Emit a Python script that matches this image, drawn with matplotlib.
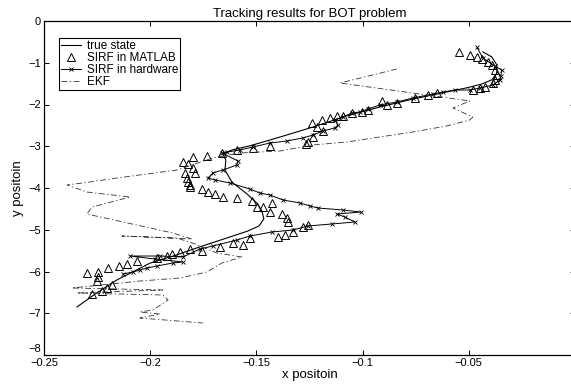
"""
Tracking results for BOT problem - true state vs SIRF (MATLAB / hardware) vs EKF.
Values read off the reference figure.
"""

import matplotlib
matplotlib.use("Agg")
import matplotlib.pyplot as plt
from matplotlib.transforms import ScaledTranslation

plt.rcParams["font.family"] = ["Liberation Sans", "DejaVu Sans"]
plt.rcParams["font.size"] = 8

# true state
true_x = [-0.0434, -0.0392, -0.0368, -0.0368, -0.0392, -0.0439, -0.0509, -0.0604,
          -0.0764, -0.0919, -0.1074, -0.1234, -0.1389, -0.1531, -0.1615, -0.1658,
          -0.1644, -0.1648, -0.1615, -0.1545, -0.1498, -0.1474, -0.1465, -0.1488,
          -0.1540, -0.1611, -0.1695, -0.1766, -0.1874, -0.2001, -0.2156, -0.2251,
          -0.2345]
true_y = [-0.74, -0.86, -1.05, -1.25, -1.41, -1.51, -1.60, -1.70,
          -1.87, -2.06, -2.27, -2.54, -2.78, -2.99, -3.09, -3.19,
          -3.33, -3.57, -3.86, -4.14, -4.36, -4.55, -4.74, -4.91,
          -5.03, -5.15, -5.29, -5.41, -5.60, -5.80, -6.20, -6.51,
          -6.85]

# SIRF in MATLAB (markers only)
matlab_x = [-0.0547, -0.0495, -0.0462, -0.0439, -0.0411, -0.0392, -0.0378, -0.0368,
            -0.0378, -0.0387, -0.0425, -0.0448, -0.0481, -0.0651, -0.0693, -0.0754,
            -0.0839, -0.0886, -0.0909, -0.0975, -0.1004, -0.1051, -0.1093, -0.1121,
            -0.1154, -0.1192, -0.1239, -0.1215, -0.1187, -0.1234, -0.1258, -0.1267,
            -0.1436, -0.1516, -0.1592, -0.1662, -0.1733, -0.1799, -0.1846, -0.1822,
            -0.1799, -0.1789, -0.1836, -0.1827, -0.1822, -0.1813, -0.1813, -0.1756,
            -0.1728, -0.1695, -0.1658, -0.1592, -0.1521, -0.1498, -0.1469, -0.1436,
            -0.1427, -0.1380, -0.1356, -0.1352, -0.1399, -0.1366, -0.1328, -0.1281,
            -0.1258, -0.1531, -0.1564, -0.1611, -0.1672, -0.1756, -0.1813, -0.1860,
            -0.1898, -0.1921, -0.1968, -0.2062, -0.2109, -0.2147, -0.2199, -0.2246,
            -0.2298, -0.2246, -0.2251, -0.2180, -0.2204, -0.2227, -0.2274]
matlab_y = [-0.743, -0.814, -0.862, -0.910, -0.982, -1.054, -1.174, -1.293,
            -1.413, -1.485, -1.581, -1.605, -1.653, -1.725, -1.772, -1.844,
            -1.964, -2.012, -1.916, -2.132, -2.180, -2.204, -2.275, -2.275,
            -2.323, -2.371, -2.443, -2.539, -2.635, -2.778, -2.898, -2.946,
            -2.994, -3.042, -3.090, -3.162, -3.234, -3.257, -3.377, -3.425,
            -3.521, -3.641, -3.641, -3.760, -3.856, -3.928, -3.976, -4.024,
            -4.096, -4.144, -4.216, -4.240, -4.311, -4.455, -4.455, -4.575,
            -4.359, -4.623, -4.719, -4.814, -5.174, -5.126, -5.054, -4.934,
            -4.886, -5.198, -5.365, -5.317, -5.413, -5.509, -5.461, -5.533,
            -5.581, -5.629, -5.677, -5.749, -5.820, -5.868, -5.916, -6.012,
            -6.036, -6.132, -6.228, -6.323, -6.395, -6.467, -6.539]

# SIRF in hardware (line + x markers)
hw_x = [-0.0462, -0.0434, -0.0378, -0.0345, -0.0349, -0.0354, -0.0387, -0.0448,
        -0.0495, -0.0566, -0.0622, -0.0669, -0.0764, -0.0839, -0.0919, -0.0975,
        -0.1013, -0.1051, -0.1093, -0.1131, -0.1116, -0.1131, -0.1187, -0.1234,
        -0.1281, -0.1356, -0.1436, -0.1516, -0.1578, -0.1639, -0.1662, -0.1587,
        -0.1592, -0.1658, -0.1705, -0.1728, -0.1695, -0.1625, -0.1531, -0.1484,
        -0.1436, -0.1375, -0.1295, -0.1248, -0.1211, -0.1093, -0.1008, -0.1121,
        -0.1084, -0.1036, -0.1145, -0.1258, -0.1328, -0.1427, -0.1531, -0.1592,
        -0.1705, -0.1766, -0.1846, -0.1954, -0.2095, -0.1978, -0.1846, -0.1893,
        -0.1968, -0.2015, -0.2048, -0.2081, -0.2128]
hw_y = [-0.623, -0.886, -1.078, -1.174, -1.317, -1.413, -1.533, -1.605,
        -1.653, -1.653, -1.701, -1.749, -1.844, -1.940, -2.012, -2.108,
        -2.180, -2.204, -2.299, -2.371, -2.491, -2.563, -2.635, -2.731,
        -2.802, -2.874, -2.922, -3.018, -3.090, -3.138, -3.162, -3.353,
        -3.449, -3.569, -3.641, -3.760, -3.808, -3.880, -4.024, -4.120,
        -4.168, -4.287, -4.359, -4.431, -4.479, -4.527, -4.575, -4.623,
        -4.695, -4.814, -4.862, -4.910, -5.006, -5.054, -5.150, -5.246,
        -5.389, -5.461, -5.653, -5.629, -5.629, -5.701, -5.772, -5.796,
        -5.868, -5.916, -5.964, -6.012, -6.060]

# EKF (dash-dot)
ekf_x = [-0.0839, -0.1107, -0.0764, -0.0495, -0.0575, -0.0481, -0.0495, -0.0604,
         -0.0764, -0.0919, -0.1074, -0.1234, -0.1389, -0.1578, -0.1705, -0.1874,
         -0.2156, -0.2284, -0.2392, -0.2298, -0.2095, -0.2274, -0.2298, -0.1893,
         -0.1804, -0.2133, -0.1874, -0.1789, -0.1686, -0.1568, -0.1662, -0.1733,
         -0.1860, -0.2048, -0.2368, -0.1940, -0.2345, -0.1940, -0.1916, -0.1987,
         -0.2048, -0.1954, -0.2048, -0.1752]
ekf_y = [-1.150, -1.485, -1.725, -1.916, -2.084, -2.299, -2.371, -2.515,
         -2.659, -2.778, -2.898, -2.970, -3.114, -3.162, -3.281, -3.569,
         -3.760, -3.856, -3.928, -4.096, -4.216, -4.455, -4.623, -5.078,
         -5.222, -5.150, -5.198, -5.341, -5.557, -5.653, -5.796, -6.012,
         -6.156, -6.228, -6.395, -6.443, -6.515, -6.563, -6.683, -6.922,
         -6.970, -7.018, -7.114, -7.234]

x_ticks = [-0.25, -0.2, -0.15, -0.1, -0.05, 0]
# the 0 label falls outside the cropped picture, so it stays empty
x_tick_labels = ["\u22120.25", "\u22120.2", "\u22120.15", "\u22120.1", "\u22120.05", ""]
y_ticks = [0, -1, -2, -3, -4, -5, -6, -7, -8]
y_tick_labels = ["0"] + ["\u2212%d" % (-v) for v in y_ticks[1:]]

fig = plt.figure(figsize=(5.71, 3.87), dpi=100)
# the right spine sits just past the image edge, like the cropped original
ax = fig.add_axes([44 / 571, 32 / 387, 531 / 571, 334 / 387])

ax.plot(true_x, true_y, color="black", linewidth=0.8, label="true state")
ax.plot(matlab_x, matlab_y, linestyle="none", marker="^", markersize=5.5,
        markerfacecolor="none", markeredgecolor="black", markeredgewidth=0.7,
        label="SIRF in MATLAB")
ax.plot(hw_x, hw_y, color="black", linewidth=0.7, marker="x", markersize=3,
        markeredgewidth=0.6, label="SIRF in hardware")
ax.plot(ekf_x, ekf_y, color="#333333", linewidth=0.6, linestyle=(0, (7, 3, 1.5, 3)),
        label="EKF")

ax.set_xlim(-0.25, 0)
ax.set_ylim(-8, 0)
ax.set_xticks(x_ticks)
ax.set_xticklabels(x_tick_labels)
ax.set_yticks(y_ticks)
ax.set_yticklabels(y_tick_labels)
ax.tick_params(direction="in", length=3.5, width=0.7, top=True, right=True, pad=2)
for sp in ax.spines.values():
    sp.set_linewidth(0.9)

# lift the -8 label a little so it clears the -0.25 label in the corner
ylab_bottom = ax.get_yticklabels()[-1]
ylab_bottom.set_transform(ylab_bottom.get_transform()
                          + ScaledTranslation(0, 5 / 72, fig.dpi_scale_trans))

ax.set_title("Tracking results for BOT problem", fontsize=9.5, pad=3)
ax.set_xlabel("x positoin", fontsize=9.5, labelpad=1)
ax.set_ylabel("y positoin", fontsize=9.5, labelpad=3)

leg = ax.legend(loc="upper left", bbox_to_anchor=(0.028, 0.949), borderaxespad=0,
                fancybox=False, framealpha=1, edgecolor="black", fontsize=8.5,
                handlelength=1.7, handletextpad=0.5, labelspacing=0.0,
                borderpad=0.15)
leg.get_frame().set_linewidth(0.8)

fig.savefig("out.png", dpi=100)
